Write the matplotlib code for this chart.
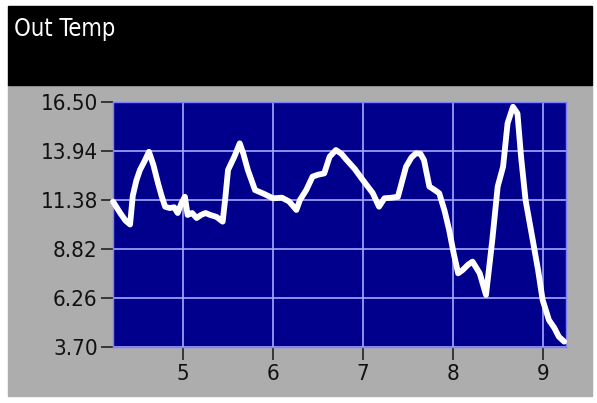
import matplotlib
matplotlib.use('Agg')
import matplotlib.pyplot as plt
import matplotlib.patches as patches

# data
hours = [4.22, 4.30, 4.36, 4.41, 4.44, 4.48, 4.52, 4.57, 4.62, 4.67, 4.72, 4.76, 4.80,
         4.85, 4.90, 4.94, 4.98, 5.02, 5.05, 5.10, 5.15, 5.20, 5.25, 5.30, 5.37, 5.44,
         5.47, 5.50, 5.57, 5.63, 5.67, 5.72, 5.80, 5.90, 6.00, 6.10, 6.18, 6.26, 6.30,
         6.37, 6.44, 6.50, 6.57, 6.63, 6.70, 6.76, 6.82, 6.91, 7.00, 7.11, 7.18, 7.24,
         7.32, 7.39, 7.48, 7.54, 7.59, 7.64, 7.68, 7.74, 7.80, 7.85, 7.91, 7.96, 8.01,
         8.06, 8.11, 8.17, 8.22, 8.30, 8.37, 8.44, 8.50, 8.56, 8.61, 8.67, 8.72, 8.76,
         8.81, 8.89, 8.95, 9.00, 9.07, 9.13, 9.18, 9.24]
temps = [11.30, 10.70, 10.30, 10.10, 11.60, 12.40, 12.95, 13.40, 13.90, 13.20, 12.27, 11.60,
         11.03, 10.96, 11.00, 10.70, 11.20, 11.55, 10.60, 10.70, 10.44, 10.60, 10.70, 10.60,
         10.50, 10.25, 11.50, 12.95, 13.64, 14.34, 13.80, 12.95, 11.90, 11.70, 11.47, 11.50,
         11.30, 10.86, 11.38, 11.90, 12.60, 12.70, 12.77, 13.64, 13.99, 13.80, 13.47, 13.00,
         12.42, 11.74, 11.03, 11.47, 11.50, 11.55, 13.12, 13.60, 13.82, 13.80, 13.47, 12.08,
         11.90, 11.73, 10.80, 9.81, 8.60, 7.55, 7.72, 8.00, 8.16, 7.55, 6.42, 9.29, 12.08,
         13.12, 15.39, 16.25, 15.90, 13.64, 11.38, 9.29, 7.70, 6.16, 5.11, 4.70, 4.24, 3.98]

y_ticks = [3.70, 6.26, 8.82, 11.38, 13.94, 16.50]
x_ticks = [5, 6, 7, 8, 9]
title = 'Out Temp'

W, H = 597, 403
fig = plt.figure(figsize=(W / 100, H / 100), dpi=100)
fig.patch.set_facecolor('white')

# gray panel and black header, behind the axes
fig.patches.append(patches.Rectangle((8 / W, 7 / H), 584 / W, 312 / H,
                                     transform=fig.transFigure, color='#adadad', zorder=-2))
fig.patches.append(patches.Rectangle((8 / W, 318 / H), 584 / W, 79 / H,
                                     transform=fig.transFigure, color='black', zorder=-1))
fig.text(14 / W, (H - 29) / H, title, color='white', fontsize=17, va='center', ha='left',
         fontstretch='condensed')

ax = fig.add_axes([113 / W, (H - 347) / H, 453 / W, 245 / H])
ax.set_facecolor('#00008c')
ax.plot(hours, temps, color='white', lw=4.2, solid_capstyle='round', solid_joinstyle='round',
        zorder=3, clip_on=False)
ax.set_xlim(4.22, 9.26)
ax.set_ylim(3.70, 16.50)
ax.set_yticks(y_ticks)
ax.set_yticklabels(['%.2f' % v for v in y_ticks])
ax.set_xticks(x_ticks)
ax.grid(True, color='#a8a8ff', lw=1.2, zorder=1)
for s in ax.spines.values():
    s.set_color('#8080ff')
    s.set_linewidth(1)
ax.tick_params(axis='y', direction='out', length=9, width=1.2, color='#222222',
               labelsize=16, pad=2)
ax.tick_params(axis='x', direction='out', length=9, width=1.2, color='#222222',
               labelsize=16, pad=3)
for lab in ax.get_xticklabels() + ax.get_yticklabels():
    lab.set_fontstretch('condensed')
    lab.set_color('#111111')

fig.savefig('out.png', dpi=100, facecolor=fig.get_facecolor())
